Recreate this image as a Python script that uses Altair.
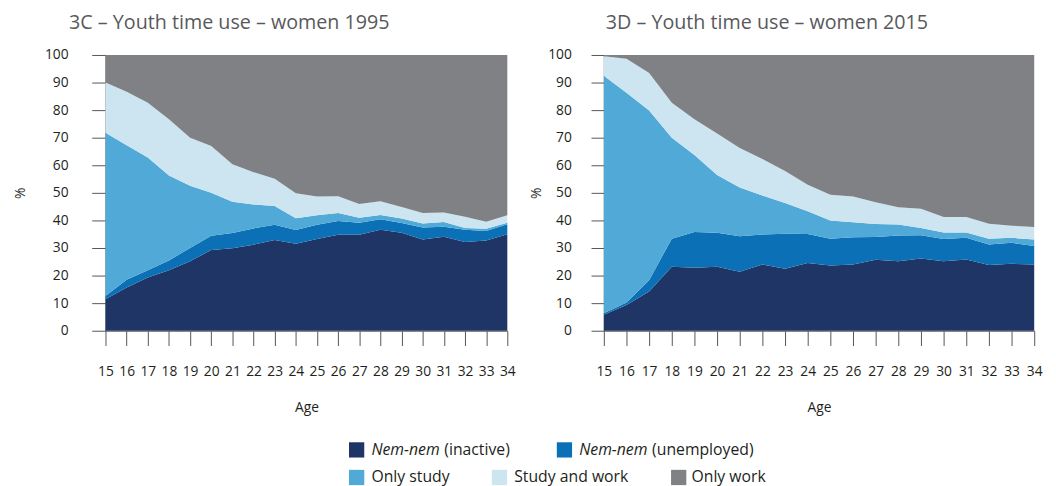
import altair as alt
import pandas as pd

ages = list(range(15, 35))
categories = ["Nem-nem (inactive)", "Nem-nem (unemployed)", "Only study", "Study and work", "Only work"]
colors = ["#1f3565", "#0b70b5", "#50a9d6", "#cde4f1", "#808184"]

# 1995 (shares, %)
inactive_1995 = [11.4, 15.7, 19.3, 21.9, 25.2, 29.3, 29.9, 31.2, 32.9, 31.5, 33.3, 34.8, 34.8, 36.6, 35.5, 33.1, 34.1, 32.2, 32.7, 35.0]
unemployed_1995 = [1.2, 2.8, 2.6, 3.6, 4.8, 5.1, 5.5, 5.9, 5.5, 5.0, 5.1, 5.0, 4.4, 3.8, 3.6, 4.3, 3.6, 4.4, 3.5, 3.6]
study_1995 = [59.2, 48.8, 40.9, 30.8, 22.6, 15.6, 11.4, 8.7, 6.8, 4.3, 3.5, 2.9, 1.8, 1.6, 1.6, 1.5, 1.7, 0.7, 0.8, 0.6]
studywork_1995 = [18.2, 19.4, 19.9, 20.4, 17.4, 17.0, 13.6, 11.7, 9.9, 9.1, 6.8, 6.1, 5.0, 5.0, 4.2, 3.8, 3.5, 4.0, 2.5, 2.7]
work_1995 = [10.0, 13.3, 17.3, 23.3, 30.0, 33.0, 39.6, 42.5, 44.9, 50.1, 51.3, 51.2, 54.0, 53.0, 55.1, 57.3, 57.1, 58.7, 60.5, 58.1]

# 2015 (shares, %)
inactive_2015 = [5.8, 9.3, 14.2, 23.2, 22.8, 23.2, 21.4, 24.0, 22.5, 24.6, 23.7, 24.0, 25.7, 25.2, 26.2, 25.2, 25.8, 23.8, 24.3, 24.0]
unemployed_2015 = [0.5, 0.9, 4.1, 10.2, 13.0, 12.3, 12.9, 10.9, 12.7, 10.5, 9.7, 9.9, 8.3, 9.3, 8.4, 8.1, 7.9, 7.5, 7.6, 6.7]
study_2015 = [86.2, 76.1, 61.6, 36.6, 27.9, 21.0, 17.6, 14.1, 11.1, 8.2, 6.6, 5.4, 4.7, 4.0, 2.7, 2.3, 1.9, 2.1, 1.8, 2.4]
studywork_2015 = [7.0, 12.3, 13.6, 12.7, 13.0, 15.0, 14.4, 13.3, 11.6, 9.6, 9.3, 9.4, 7.9, 6.3, 6.9, 5.6, 5.6, 5.4, 4.4, 4.5]
work_2015 = [0.5, 1.4, 6.5, 17.3, 23.3, 28.5, 33.7, 37.7, 42.1, 47.1, 50.7, 51.3, 53.4, 55.2, 55.8, 58.8, 58.8, 61.2, 61.9, 62.4]

y_ticks = list(range(0, 101, 10))
FONT = "Open Sans"
H = 280


def build_df(series):
    rows = []
    for k, (cat, vals) in enumerate(zip(categories, series)):
        for a, v in zip(ages, vals):
            rows.append({"age": a, "category": cat, "value": v, "order": k})
    return pd.DataFrame(rows)


df95 = build_df([inactive_1995, unemployed_1995, study_1995, studywork_1995, work_1995])
df15 = build_df([inactive_2015, unemployed_2015, study_2015, studywork_2015, work_2015])


def area(df, ytick, ylabpad, ytitlepad):
    return alt.Chart(df).mark_area(interpolate="linear").encode(
        x=alt.X("age:Q",
                scale=alt.Scale(domain=[15, 34], nice=False, zero=False),
                axis=alt.Axis(values=ages, format="d", title="Age", tickSize=15,
                              labelPadding=19, titlePadding=23, labelFlush=False,
                              labelOverlap=False)),
        y=alt.Y("value:Q", stack="zero",
                scale=alt.Scale(domain=[0, 100], nice=False),
                axis=alt.Axis(values=y_ticks, title="%", tickSize=ytick,
                              labelPadding=ylabpad, titlePadding=ytitlepad)),
        color=alt.Color("category:N", scale=alt.Scale(domain=categories, range=colors), legend=None),
        order=alt.Order("order:Q", sort="ascending"),
    )


def title_params(text, dx):
    return alt.TitleParams(text, anchor="start", frame="group", dx=dx, offset=15,
                           fontSize=20, font=FONT, fontWeight="normal", color="#58595b")


# custom legend (positions relative to left panel plot area)
dummy = alt.Data(values=[{"a": 1}])
legend_layers = []
legend_items = [
    # color index, italic part, normal part, square x, y, italic text x, normal text x
    (0, "Nem-nem", "(inactive)", 255, 401, 270, 344),
    (1, "Nem-nem", "(unemployed)", 466, 401, 481, 555),
    (2, "", "Only study", 255, 429, 270, 270),
    (3, "", "Study and work", 400, 429, 415, 415),
    (4, "", "Only work", 582, 429, 595, 595),
]
for ci, ital, norm, sx, sy, ix, nx in legend_items:
    legend_layers.append(
        alt.Chart(dummy).mark_square(size=240, opacity=1).encode(
            x=alt.value(sx), y=alt.value(sy), color=alt.value(colors[ci]))
    )
    if ital:
        legend_layers.append(
            alt.Chart(dummy).mark_text(align="left", baseline="middle", font=FONT, fontSize=16,
                                       fontStyle="italic", color="#231f20").encode(
                x=alt.value(ix), y=alt.value(sy), text=alt.value(ital))
        )
    legend_layers.append(
        alt.Chart(dummy).mark_text(align="left", baseline="middle", font=FONT, fontSize=16,
                                   color="#231f20").encode(
            x=alt.value(nx), y=alt.value(sy), text=alt.value(norm))
    )

left = alt.layer(area(df95, 14, 24, 17), *legend_layers).properties(
    width=408, height=H, title=title_params("3C – Youth time use – women 1995", -37))
right = alt.layer(area(df15, 13, 20, 4)).properties(
    width=437, height=H, title=title_params("3D – Youth time use – women 2015", 2))

chart = alt.hconcat(left, right, spacing=98, bounds="flush").properties(
    padding={"left": 5, "top": 2, "right": 5, "bottom": 0}
).configure_view(
    stroke=None
).configure_axis(
    grid=False,
    labelFont=FONT, labelFontSize=14, labelColor="#231f20",
    titleFont=FONT, titleFontSize=14, titleFontWeight="normal", titleColor="#231f20",
    tickColor="#555555", domainColor="#555555", tickWidth=1, domainWidth=1,
)

chart.save("out.html", embed_options={"renderer": "svg", "actions": False})
